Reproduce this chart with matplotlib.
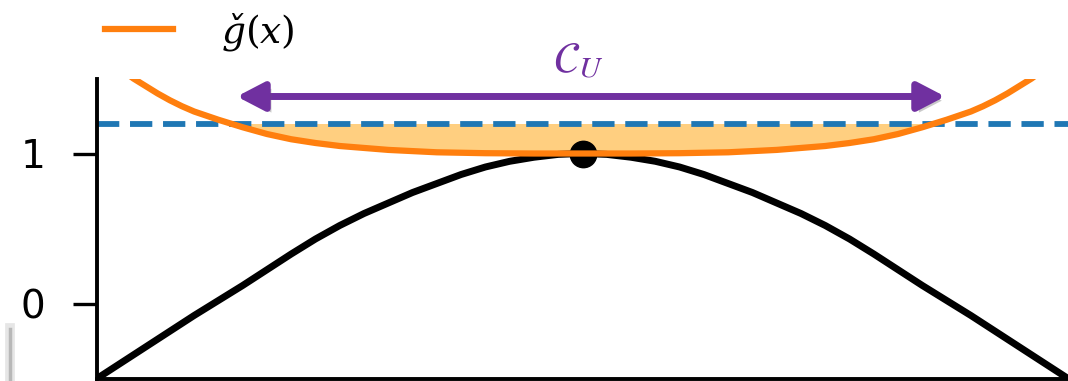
import matplotlib
matplotlib.use("Agg")
import matplotlib.pyplot as plt
import matplotlib.patheffects as pe
from matplotlib.lines import Line2D
import numpy as np

plt.rcParams['mathtext.fontset'] = 'stix'

# half profiles (x >= 0), mirrored about x = 0
x_f = [0.0, 0.05, 0.1, 0.15, 0.2, 0.25, 0.3, 0.35, 0.4, 0.45, 0.5, 0.55, 0.6,
       0.65, 0.7, 0.75, 0.8, 0.85, 0.9, 0.95, 1.0]
f_half = [1.0, 0.994, 0.975, 0.948, 0.91, 0.86, 0.80, 0.74, 0.67, 0.60, 0.52,
          0.43, 0.33, 0.225, 0.12, 0.02, -0.08, -0.185, -0.29, -0.395, -0.5]

x_g = [0.0, 0.1, 0.2, 0.3, 0.4, 0.5, 0.55, 0.6, 0.65, 0.7, 0.75, 0.8, 0.825,
       0.85, 0.875, 0.9, 0.925, 0.95]
g_half = [1.0, 1.0, 1.002, 1.008, 1.024, 1.05, 1.07, 1.095, 1.13, 1.175, 1.225,
          1.28, 1.315, 1.355, 1.40, 1.45, 1.50, 1.56]

level = 1.2          # dashed threshold
x_max, f_max = 0.0, 1.0
arrow_x = (-0.712, 0.747)
arrow_y = 1.38

x_f = np.array(x_f)
xf = np.concatenate([-x_f[::-1], x_f[1:]])
yf = np.concatenate([f_half[::-1], f_half[1:]])
x_g = np.array(x_g)
xg = np.concatenate([-x_g[::-1], x_g[1:]])
yg = np.concatenate([g_half[::-1], g_half[1:]])

fig = plt.figure(figsize=(10.68, 3.81), dpi=100)
ax = fig.add_axes([97 / 1068, 2.5 / 381, 971 / 1068, 300 / 381])

ax.fill_between(xg, yg, level, where=yg <= level, interpolate=True,
                color='#FFCF80', lw=0, zorder=1)
ax.axhline(level, color='#1f77b4', lw=4.2, dashes=(3.82, 1.84), zorder=2)
ax.plot(xf, yf, color='black', lw=5, zorder=3, solid_joinstyle='round')
ax.plot([x_max], [f_max], 'o', color='black', ms=19, zorder=3.5)
g_line, = ax.plot(xg, yg, color='#FF7F0E', lw=4.5, zorder=4,
                  solid_joinstyle='round')

ax.annotate('', xy=(arrow_x[1], arrow_y), xytext=(arrow_x[0], arrow_y),
            arrowprops=dict(arrowstyle='<|-|>,head_length=16.5,head_width=8.6',
                            mutation_scale=1, color='#7030A0', lw=5,
                            shrinkA=0, shrinkB=0,
                            path_effects=[pe.SimplePatchShadow(offset=(3, -3), shadow_rgbFace='0.4', alpha=0.35),
                                          pe.Normal()]),
            zorder=5)
ax.text(-0.01, 1.62, r'$\mathcal{C}_U$', color='#7030A0', fontsize=31,
        ha='center', va='center', clip_on=False)

ax.set_xlim(-1, 1)
ax.set_ylim(-0.5, 1.5)
ax.set_xticks([])
ax.set_yticks([0, 1])
ax.tick_params(axis='y', labelsize=28, length=17, width=2.4, pad=20)
for side in ['top', 'right']:
    ax.spines[side].set_visible(False)
for side in ['left', 'bottom']:
    ax.spines[side].set_linewidth(2.8)

fig.legend([g_line], ['$ǧ(x)$'], loc='center left',
           bbox_to_anchor=(105 / 1068, 1 - 32 / 381), frameon=False,
           borderpad=0, borderaxespad=0, handlelength=1.8, handletextpad=1.3,
           prop={'size': 27, 'math_fontfamily': 'dejavuserif'})

# faint grey edge in the lower-left corner
fig.add_artist(Line2D([10 / 1068] * 2, [0, 53 / 381], color='0.9', lw=7,
                      transform=fig.transFigure))
fig.add_artist(Line2D([10 / 1068] * 2, [0, 52 / 381], color='0.72', lw=2.5,
                      transform=fig.transFigure))

fig.savefig('out.png', dpi=100)
